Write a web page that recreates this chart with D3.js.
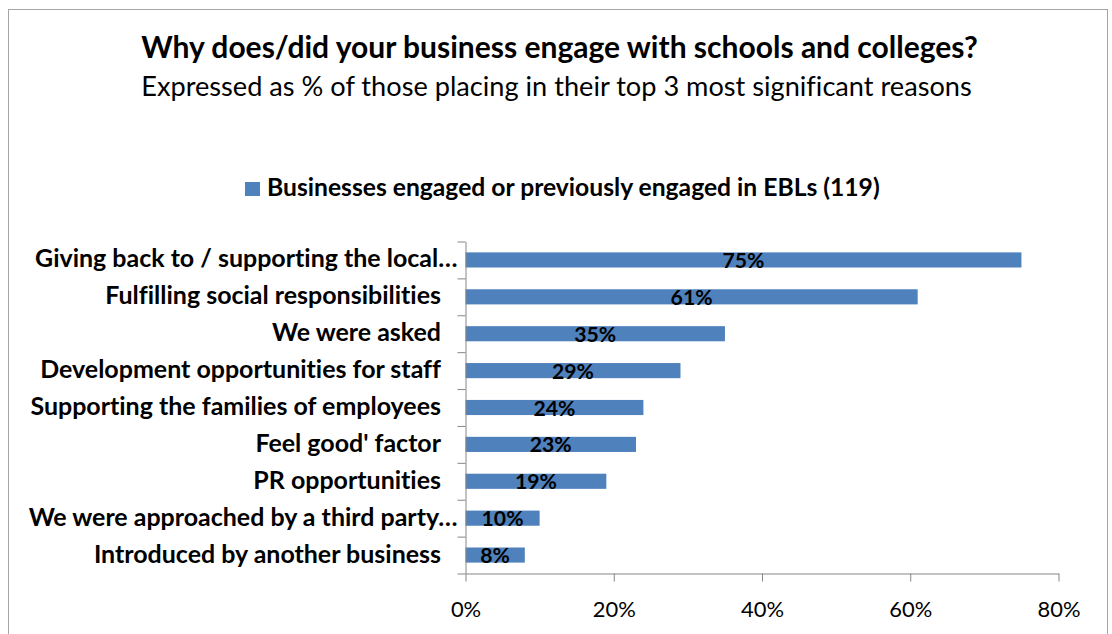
<!DOCTYPE html>
<html>
<head>
<meta charset="utf-8">
<script src="https://cdn.jsdelivr.net/npm/d3@7"></script>
<style>
  html, body { margin: 0; padding: 0; background: #fff; }
  svg { display: block; }
  text { font-family: Lato, "Open Sans", "Noto Sans", sans-serif; fill: #000; font-variant-ligatures: none; font-feature-settings: "liga" 0, "clig" 0; }
</style>
</head>
<body>
<svg id="chart" width="1112" height="634"></svg>
<script>
// Reasons for engaging with schools and colleges (% placing in top 3)
const categories = [
  "Giving back to / supporting the local…",
  "Fulfilling social responsibilities",
  "We were asked",
  "Development opportunities for staff",
  "Supporting the families of employees",
  "Feel good' factor",
  "PR opportunities",
  "We were approached by a third party…",
  "Introduced by another business"
];
const values = [75, 61, 35, 29, 24, 23, 19, 10, 8];
const xTicks = [0, 20, 40, 60, 80];
const titleText = "Why does/did your business engage with schools and colleges?";
const subtitleText = "Expressed as % of those placing in their top 3 most significant reasons";
const seriesName = "Businesses engaged or previously engaged in EBLs (119)";

const W = 1112, H = 634;
const barColor = "#4F81BD";
const axisColor = "#868686";

const svg = d3.select("#chart");
svg.append("rect").attr("width", W).attr("height", H).attr("fill", "#fff");

// chart frame
svg.append("rect")
  .attr("x", 8.5).attr("y", 9.5)
  .attr("width", 1099).attr("height", 700)
  .attr("fill", "none").attr("stroke", "#a6a6a6").attr("stroke-width", 1);

// scale a text's font size so that it spans the given width
function fitSize(node, width) {
  const cur = node.getComputedTextLength();
  const fs = parseFloat(getComputedStyle(node).fontSize);
  return fs * width / cur;
}

// title and subtitle
const title = svg.append("text")
  .attr("x", 559.5).attr("y", 57.5)
  .attr("text-anchor", "middle")
  .style("font-weight", "bold").style("font-size", "24px")
  .text(titleText);
title.style("font-size", fitSize(title.node(), 837) + "px");

const subtitle = svg.append("text")
  .attr("x", 556.5).attr("y", 96)
  .attr("text-anchor", "middle")
  .style("font-size", "24px")
  .text(subtitleText);
subtitle.style("font-size", fitSize(subtitle.node(), 831) + "px");

// legend
const legend = svg.append("g");
legend.append("rect")
  .attr("x", 245).attr("y", 182)
  .attr("width", 15).attr("height", 14)
  .attr("fill", barColor);
const legText = legend.append("text")
  .attr("x", 267).attr("y", 196)
  .style("font-weight", "bold").style("font-size", "20px")
  .text(seriesName);
legText.style("font-size", fitSize(legText.node(), 613) + "px");

// scales
const x = d3.scaleLinear().domain([0, 80]).range([465.5, 1058.5]);
const y = d3.scaleBand()
  .domain(categories)
  .range([241.5, 573.5])
  .paddingInner(0.59)
  .paddingOuter(0.295);
const yBound = d3.scaleLinear().domain([0, categories.length]).range([241.5, 573.5]);

// bars
svg.append("g").selectAll("rect")
  .data(values)
  .join("rect")
  .attr("x", x(0))
  .attr("y", (d, i) => y(categories[i]))
  .attr("width", d => x(d) - x(0))
  .attr("height", y.bandwidth())
  .attr("fill", barColor);

// category axis (ticks on category boundaries)
const yAxis = svg.append("g")
  .attr("transform", `translate(${x(0)},0)`)
  .call(d3.axisLeft(yBound)
    .tickValues(d3.range(categories.length + 1))
    .tickSize(8).tickSizeOuter(0)
    .tickFormat(""));
yAxis.select(".domain").attr("stroke", axisColor);
yAxis.selectAll(".tick line").attr("stroke", axisColor);

// value axis
const xAxis = svg.append("g")
  .attr("transform", `translate(0,${yBound.range()[1]})`)
  .call(d3.axisBottom(x)
    .tickValues(xTicks)
    .tickSize(8).tickSizeOuter(0)
    .tickFormat(d => d + "%"));
xAxis.select(".domain").attr("stroke", axisColor);
xAxis.selectAll(".tick line").attr("stroke", axisColor);
const tickTexts = xAxis.selectAll(".tick text")
  .attr("y", 43).attr("dy", null)
  .attr("fill", "#000")
  .style("font-family", 'Lato, "Open Sans", "Noto Sans", sans-serif')
  .style("font-size", "24px");
const tickSize = fitSize(tickTexts.filter(d => d === 20).node(), 43);
tickTexts.style("font-size", tickSize + "px");

// category labels
const catLabels = svg.append("g").selectAll("text")
  .data(categories)
  .join("text")
  .attr("x", d => d.endsWith("…") ? x(0) - 8 : x(0) - 24.5)
  .attr("y", d => y(d) + y.bandwidth() / 2 + 7.5)
  .attr("text-anchor", "end")
  .style("font-weight", "bold")
  .style("font-size", "22px")
  .text(d => d);
const catSize = fitSize(catLabels.filter((d, i) => i === 1).node(), 336);
catLabels.style("font-size", catSize + "px");

// value labels centred on each bar
const valLabels = svg.append("g").selectAll("text")
  .data(values)
  .join("text")
  .attr("x", d => (x(0) + x(d)) / 2)
  .attr("y", (d, i) => y(categories[i]) + y.bandwidth() / 2 + 8)
  .attr("text-anchor", "middle")
  .style("font-weight", "bold")
  .style("font-size", "22px")
  .text(d => d + "%");
const valSize = fitSize(valLabels.filter((d, i) => i === 0).node(), 42);
valLabels.style("font-size", valSize + "px");
</script>
</body>
</html>
